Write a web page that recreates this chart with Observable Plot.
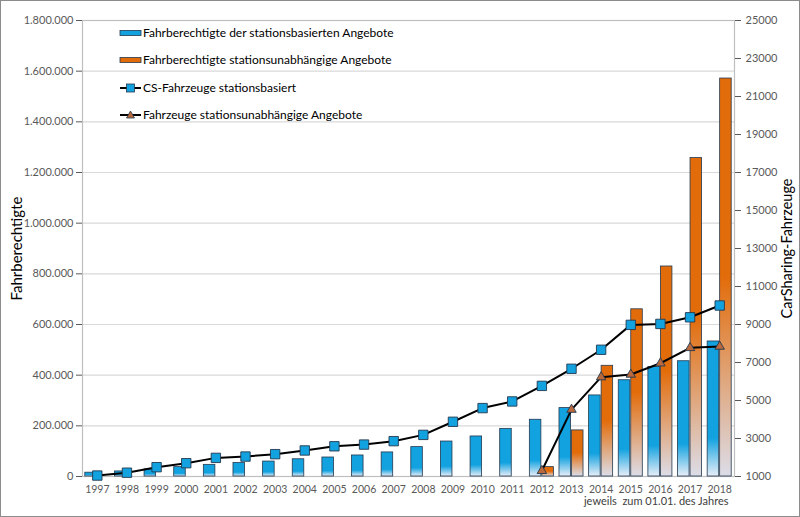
<!DOCTYPE html>
<html><head><meta charset="utf-8">
<script src="https://cdn.jsdelivr.net/npm/d3@7"></script>
<script src="https://cdn.jsdelivr.net/npm/@observablehq/plot@0.6"></script>
<style>
body{margin:0;background:#fff;}
#chart svg{display:block;outline:1px solid #8c8c8c;outline-offset:-1px;}
</style></head><body><div id="chart"></div>
<script>
const years = [1997,1998,1999,2000,2001,2002,2003,2004,2005,2006,2007,2008,2009,2010,2011,2012,2013,2014,2015,2016,2017,2018];
const stationBasedMembers = [15000,20000,28000,37000,46000,53000,59000,68000,75000,83000,95000,116000,138000,158000,188000,224000,270000,320000,380000,432000,455000,533000];
const freeFloatingMembers = [null,null,null,null,null,null,null,null,null,null,null,null,null,null,null,37000,182000,437000,660000,829000,1257000,1571000];
const stationBasedVehicles = [1050,1200,1490,1700,1980,2050,2175,2370,2590,2680,2860,3190,3880,4600,4950,5770,6670,7670,8980,9030,9380,10000];
const freeFloatingVehicles = [null,null,null,null,null,null,null,null,null,null,null,null,null,null,null,1300,4520,6230,6370,6960,7770,7840];
const leftTicks = [0,200000,400000,600000,800000,1000000,1200000,1400000,1600000,1800000];
const rightTicks = [1000,3000,5000,7000,9000,11000,13000,15000,17000,19000,21000,23000,25000];
const seriesNames = ["Fahrberechtigte der stationsbasierten Angebote","Fahrberechtigte stationsunabhängige Angebote","CS-Fahrzeuge stationsbasiert","Fahrzeuge stationsunabhängige Angebote"];
const leftTitle = "Fahrberechtigte";
const rightTitle = "CarSharing-Fahrzeuge";
const caption = "jeweils  zum 01.01. des Jahres";

// right axis (vehicles) is linearly tied to left axis: 1000 -> 0, 25000 -> 1.800.000
const toLeft = v => v == null ? null : (v - 1000) * 75;
const fromLeft = y => y / 75 + 1000;

const rows = years.map((y, i) => ({
  year: y,
  sbm: stationBasedMembers[i],
  ffm: freeFloatingMembers[i],
  sbv: toLeft(stationBasedVehicles[i]),
  ffv: toLeft(freeFloatingVehicles[i])
}));

const de = d3.formatLocale({decimal: ",", thousands: ".", grouping: [3], currency: ["", "€"]}).format(",");
const NS = "http://www.w3.org/2000/svg";
function el(tag, attrs) {
  const e = document.createElementNS(NS, tag);
  for (const k in attrs) e.setAttribute(k, attrs[k]);
  return e;
}

const BLUE = "#12a2e0", ORANGE = "#e36c0a", TRI = "#b9693c", OUT = "#24394f";

function defsMark() {
  const g = el("g", {});
  const defs = el("defs", {});
  const mk = (id, stops) => {
    const lg = el("linearGradient", {id, x1: 0, y1: 0, x2: 0, y2: 1});
    stops.forEach(([o, c]) => lg.appendChild(el("stop", {offset: o, "stop-color": c})));
    defs.appendChild(lg);
  };
  mk("gBlue", [[0, BLUE], [0.72, BLUE], [1, "#e8eef8"]]);
  mk("gOrange", [[0, ORANGE], [0.5, ORANGE], [1, "#dcdde8"]]);
  g.appendChild(defs);
  return g;
}

function legendMark() {
  const g = el("g", {"font-family": "Lato, sans-serif", "font-size": 12, fill: "#000", "text-anchor": "start"});
  const x0 = 120, x1 = 141, tx = 143;
  const ys = [33, 60, 88, 115];
  g.appendChild(el("rect", {x: x0, y: ys[0] - 2.5, width: x1 - x0, height: 5, fill: BLUE, stroke: OUT, "stroke-width": 0.8}));
  g.appendChild(el("rect", {x: x0, y: ys[1] - 2.5, width: x1 - x0, height: 5, fill: ORANGE, stroke: OUT, "stroke-width": 0.8}));
  [2, 3].forEach(k => {
    g.appendChild(el("line", {x1: x0, x2: x1, y1: ys[k], y2: ys[k], stroke: "#000", "stroke-width": 2}));
  });
  g.appendChild(el("rect", {x: 126.5, y: ys[2] - 4, width: 8, height: 8, fill: BLUE, stroke: OUT, "stroke-width": 0.8}));
  g.appendChild(el("path", {d: `M130.5,${ys[3] - 4}L134.5,${ys[3] + 3}L126.5,${ys[3] + 3}Z`, fill: TRI, stroke: OUT, "stroke-width": 0.8}));
  seriesNames.forEach((s, k) => {
    const t = el("text", {x: tx, y: ys[k], dy: "0.35em", "text-anchor": "start"});
    t.textContent = s;
    g.appendChild(t);
  });
  return g;
}

const chart = Plot.plot({
  width: 800,
  height: 517,
  marginLeft: 82,
  marginRight: 66,
  marginTop: 20,
  marginBottom: 41,
  style: {fontFamily: "Lato, sans-serif", fontSize: "11px", background: "#fff"},
  x: {type: "band", domain: years, paddingInner: 0, paddingOuter: 0, round: false, axis: null},
  y: {domain: [0, 1800000], axis: null},
  marks: [
    defsMark,
    Plot.gridY(leftTicks, {stroke: "#d9d9d9", strokeOpacity: 1, strokeWidth: 1.2}),
    Plot.frame({stroke: "#bfbfbf", strokeWidth: 1.2}),
    Plot.barY(rows, {x: "year", y: "sbm", fill: "url(#gBlue)", stroke: OUT, strokeWidth: 0.8, insetLeft: 2.8, insetRight: 15.3}),
    Plot.barY(rows.filter(d => d.ffm != null), {x: "year", y: "ffm", fill: "url(#gOrange)", stroke: OUT, strokeWidth: 0.8, insetLeft: 15.3, insetRight: 2.8}),
    Plot.line(rows, {x: "year", y: "sbv", stroke: "#000", strokeWidth: 2}),
    Plot.line(rows.filter(d => d.ffv != null), {x: "year", y: "ffv", stroke: "#000", strokeWidth: 2}),
    Plot.dot(rows, {x: "year", y: "sbv", symbol: "square", r: 5.3, fill: BLUE, stroke: OUT, strokeWidth: 0.9}),
    Plot.dot(rows.filter(d => d.ffv != null), {x: "year", y: "ffv", symbol: "triangle", r: 3.5, fill: TRI, stroke: OUT, strokeWidth: 0.9}),
    Plot.axisY({ticks: leftTicks, tickFormat: de, tickSize: 6, tickPadding: 3, color: "#595959", fontSize: 11, label: null}),
    Plot.axisY({anchor: "right", ticks: rightTicks.map(toLeft), tickFormat: d => String(Math.round(fromLeft(d))), tickSize: 6, tickPadding: 5, color: "#595959", fontSize: 11, label: null}),
    Plot.axisX({tickSize: 0, tickPadding: 9, tickFormat: d => String(d), color: "#595959", fontSize: 10.5, label: null}),
    Plot.text([leftTitle], {frameAnchor: "left", dx: -65, rotate: -90, textAnchor: "middle", fontSize: 15, fill: "#000", text: d => d}),
    Plot.text([rightTitle], {frameAnchor: "right", dx: 53, rotate: -90, textAnchor: "middle", fontSize: 14.5, fill: "#000", text: d => d}),
    Plot.text([caption], {frameAnchor: "bottom-right", dx: -6, dy: 28, textAnchor: "end", fontSize: 11, fill: "#404040", text: d => d}),
    legendMark
  ]
});
document.getElementById("chart").appendChild(chart);
</script>
</body></html>
